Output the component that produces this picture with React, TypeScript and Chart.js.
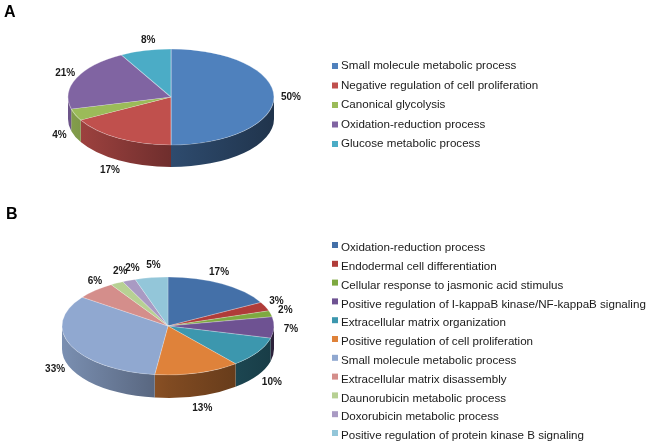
import { useEffect, useRef } from 'react';
import { Chart, registerables } from 'chart.js';

Chart.register(...registerables);

// two Excel-style 3D pies (A, B) with legends on the right
const FONT = "Arial, 'Liberation Sans', sans-serif";
const TEXT = '#1a1a1a';

const LABELS_A = [
  'Small molecule metabolic process',
  'Negative regulation of cell proliferation',
  'Canonical glycolysis',
  'Oxidation-reduction process',
  'Glucose metabolic process',
];
const VALUES_A = [50, 17, 4, 21, 8];
const COLORS_A = ['#4F81BD', '#C0504D', '#9BBB59', '#8064A2', '#4BACC6'];

const LABELS_B = [
  'Oxidation-reduction process',
  'Endodermal cell differentiation',
  'Cellular response to jasmonic acid stimulus',
  'Positive regulation of I-kappaB kinase/NF-kappaB signaling',
  'Extracellular matrix organization',
  'Positive regulation of cell proliferation',
  'Small molecule metabolic process',
  'Extracellular matrix disassembly',
  'Daunorubicin metabolic process',
  'Doxorubicin metabolic process',
  'Positive regulation of protein kinase B signaling',
];
const VALUES_B = [17, 3, 2, 7, 10, 13, 33, 6, 2, 2, 5];
const COLORS_B = [
  '#4470A8', '#B03C39', '#7EA940', '#6E5292', '#3C97AE', '#DF823A',
  '#90A8D0', '#D48E8B', '#B7D093', '#A99AC3', '#93C6D9',
];

type Geom = {
  cx: number; cy: number; rx: number; ry: number; depth: number;
  labelDx: number; labelDy: number;
  legendX: number; legendY: number; legendStep: number; boxDy: number;
  titleX: number; titleY: number;
};

const GEOM_A: Geom = {
  cx: 171, cy: 97, rx: 103, ry: 48, depth: 22, labelDx: 17, labelDy: 11,
  legendX: 332, legendY: 66, legendStep: 19.5, boxDy: 0, titleX: 4, titleY: 3,
};
const GEOM_B: Geom = {
  cx: 168, cy: 126, rx: 106, ry: 49, depth: 23, labelDx: 17, labelDy: 13,
  legendX: 332, legendY: 48, legendStep: 18.8, boxDy: -3, titleX: 6, titleY: 4.5,
};

function shade(hex: string, f: number) {
  const n = parseInt(hex.slice(1), 16);
  const r = Math.round(((n >> 16) & 255) * f);
  const g = Math.round(((n >> 8) & 255) * f);
  const b = Math.round((n & 255) * f);
  return `rgb(${r},${g},${b})`;
}

function pie3d(g: Geom, labels: string[], values: number[], colors: string[]) {
  let saved = false;
  return {
    id: 'pie3d',
    beforeDatasetsDraw(chart: Chart) {
      const arcs = chart.getDatasetMeta(0).data as any[];
      if (!arcs.length) return;
      const ctx = chart.ctx;
      const { cx, cy, rx, ry, depth } = g;
      // front wall, only the half facing us
      arcs.forEach((arc, i) => {
        const a1 = Math.max(arc.startAngle, 0);
        const a2 = Math.min(arc.endAngle, Math.PI);
        if (a2 <= a1) return;
        const grad = ctx.createLinearGradient(cx - rx, 0, cx + rx, 0);
        grad.addColorStop(0, shade(colors[i], 0.85));
        grad.addColorStop(0.5, shade(colors[i], 0.58));
        grad.addColorStop(1, shade(colors[i], 0.4));
        ctx.beginPath();
        ctx.ellipse(cx, cy, rx, ry, 0, a1, a2);
        ctx.ellipse(cx, cy + depth, rx, ry, 0, a2, a1, true);
        ctx.closePath();
        ctx.fillStyle = grad;
        ctx.fill();
      });
      // squash the library's circle into the top ellipse
      const el = arcs[0];
      ctx.save();
      saved = true;
      ctx.translate(cx, cy);
      ctx.scale(rx / el.outerRadius, ry / el.outerRadius);
      ctx.translate(-el.x, -el.y);
    },
    afterDatasetsDraw(chart: Chart) {
      if (!saved) return;
      saved = false;
      const ctx = chart.ctx;
      ctx.restore();
      const arcs = chart.getDatasetMeta(0).data as any[];
      const { cx, cy, rx, ry, depth } = g;
      ctx.save();
      ctx.font = `bold 10px ${FONT}`;
      ctx.fillStyle = TEXT;
      ctx.textAlign = 'center';
      ctx.textBaseline = 'middle';
      arcs.forEach((arc, i) => {
        const mid = (arc.startAngle + arc.endAngle) / 2;
        const c = Math.cos(mid);
        const s = Math.sin(mid);
        // back half sits farther away, so pull those labels in a little
        const k = s < 0 ? 1 - 0.25 * s * s : 1;
        const x = cx + (rx + g.labelDx) * c * k;
        const y = cy + (ry + g.labelDy) * s + (s > 0 ? depth * Math.min(1, s * 2) : 0);
        ctx.fillText(`${values[i]}%`, x, y);
      });
      // legend
      ctx.font = `11.6px ${FONT}`;
      ctx.textAlign = 'left';
      labels.forEach((t, i) => {
        const y = g.legendY + i * g.legendStep;
        ctx.fillStyle = colors[i];
        ctx.fillRect(g.legendX, y - 3 + g.boxDy, 6, 6);
        ctx.fillStyle = TEXT;
        ctx.fillText(t, g.legendX + 9, y);
      });
      ctx.restore();
    },
  };
}

function Pie3D({ title, labels, values, colors, geom, top, height }: {
  title: string; labels: string[]; values: number[]; colors: string[];
  geom: Geom; top: number; height: number;
}) {
  const ref = useRef<HTMLCanvasElement | null>(null);

  useEffect(() => {
    const cv = ref.current;
    if (!cv) return;
    const chart = new Chart(cv, {
      type: 'pie',
      data: {
        labels,
        datasets: [{
          data: values,
          backgroundColor: colors,
          borderColor: 'rgba(255,255,255,0.35)',
          borderWidth: 1,
          clip: false as any,
        }],
      },
      options: {
        animation: false,
        responsive: false,
        events: [],
        layout: { padding: { left: geom.titleX, top: geom.titleY } },
        plugins: {
          legend: { display: false },
          tooltip: { enabled: false },
          title: {
            display: true,
            text: title,
            align: 'start',
            color: '#000',
            padding: 0,
            font: { family: FONT, size: 16, weight: 'bold' },
          },
        },
      },
      plugins: [pie3d(geom, labels, values, colors) as any],
    });
    return () => chart.destroy();
  }, [title, labels, values, colors, geom]);

  return (
    <canvas
      ref={ref}
      width={650}
      height={height}
      style={{ position: 'absolute', left: 0, top, width: 650, height }}
    />
  );
}

export default function App() {
  return (
    <div style={{ position: 'absolute', left: 0, top: 0, width: 650, height: 448, background: '#fff' }}>
      <Pie3D title="A" labels={LABELS_A} values={VALUES_A} colors={COLORS_A} geom={GEOM_A} top={0} height={200} />
      <Pie3D title="B" labels={LABELS_B} values={VALUES_B} colors={COLORS_B} geom={GEOM_B} top={200} height={248} />
    </div>
  );
}
